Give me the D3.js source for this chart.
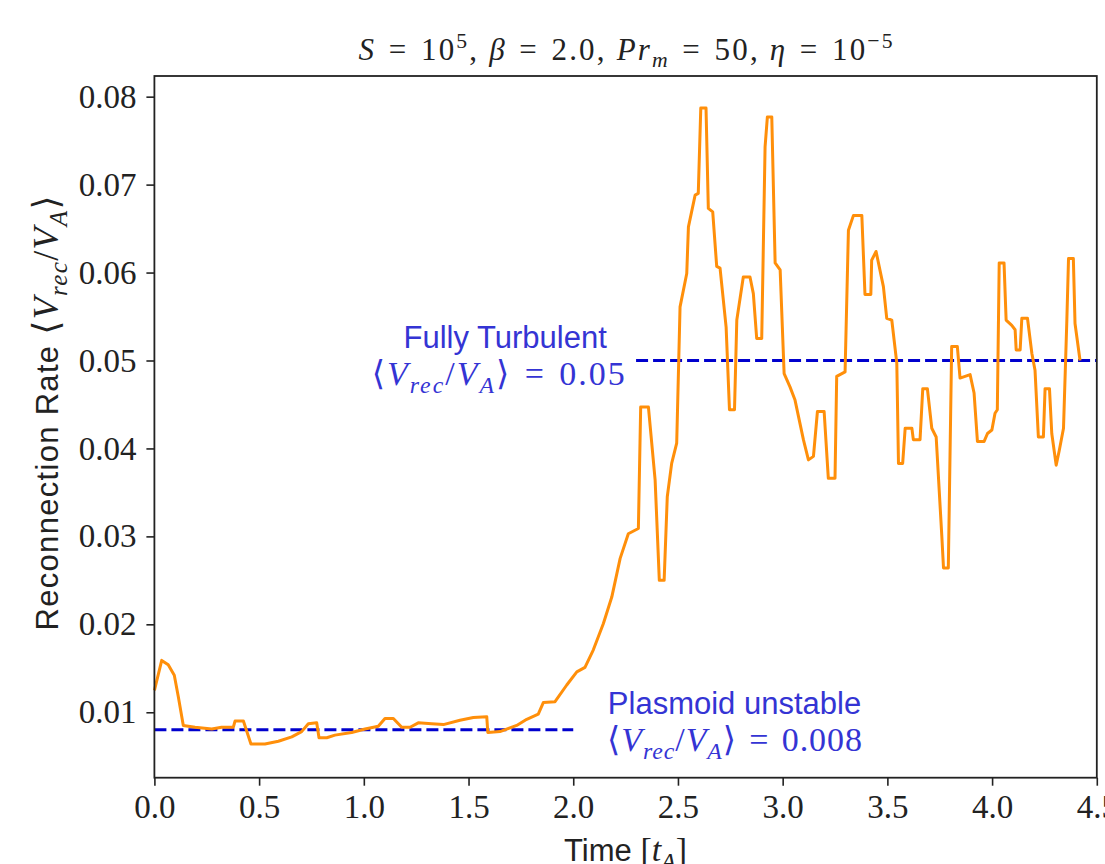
<!DOCTYPE html>
<html>
<head>
<meta charset="utf-8">
<script src="https://cdn.jsdelivr.net/npm/d3@7"></script>
<style>
  body { margin: 0; background: #fff; }
  text { white-space: pre; }
</style>
</head>
<body>
<svg></svg>
<script>
// Reconnection rate time series
const times = [0, 0.035, 0.066, 0.095, 0.114, 0.138, 0.194, 0.274, 0.321, 0.377, 0.385, 0.425, 0.461, 0.528, 0.592,
  0.656, 0.703, 0.735, 0.775, 0.786, 0.823, 0.862, 0.942, 1.006, 1.069, 1.101, 1.141, 1.181, 1.221, 1.260, 1.324,
  1.380, 1.459, 1.523, 1.587, 1.592, 1.650, 1.730, 1.778, 1.833, 1.857, 1.913, 1.969, 2.017, 2.056, 2.096, 2.144,
  2.184, 2.224, 2.263, 2.311, 2.322, 2.359, 2.391, 2.411, 2.434, 2.449, 2.470, 2.494, 2.510, 2.542, 2.550, 2.582,
  2.597, 2.609, 2.634, 2.645, 2.666, 2.685, 2.701, 2.730, 2.746, 2.770, 2.781, 2.812, 2.844, 2.860, 2.876, 2.900,
  2.916, 2.927, 2.948, 2.964, 2.988, 3.007, 3.035, 3.059, 3.099, 3.123, 3.147, 3.166, 3.198, 3.218, 3.250, 3.258,
  3.298, 3.314, 3.338, 3.378, 3.393, 3.421, 3.425, 3.446, 3.481, 3.497, 3.521, 3.545, 3.553, 3.573, 3.585, 3.617,
  3.624, 3.656, 3.669, 3.691, 3.712, 3.733, 3.760, 3.768, 3.791, 3.807, 3.834, 3.847, 3.895, 3.914, 3.930, 3.962,
  3.978, 3.999, 4.014, 4.025, 4.034, 4.057, 4.067, 4.094, 4.110, 4.115, 4.134, 4.142, 4.169, 4.190, 4.205, 4.221,
  4.245, 4.253, 4.274, 4.285, 4.306, 4.321, 4.341, 4.357, 4.365, 4.388, 4.396, 4.420];
const rates = [0.0125, 0.0159, 0.0154, 0.0142, 0.0118, 0.0085, 0.0083, 0.0081, 0.0083, 0.0083, 0.0090, 0.0090, 0.0064, 0.0064, 0.0067,
  0.0072, 0.0078, 0.0087, 0.0088, 0.0071, 0.0071, 0.0074, 0.0077, 0.0081, 0.0084, 0.0093, 0.0093, 0.0083, 0.0083, 0.0088, 0.0087,
  0.0086, 0.0091, 0.0094, 0.0095, 0.0077, 0.0078, 0.0085, 0.0092, 0.0098, 0.0111, 0.0112, 0.0131, 0.0146, 0.0151, 0.0171, 0.0201,
  0.0231, 0.0275, 0.0303, 0.0309, 0.0447, 0.0447, 0.0364, 0.0250, 0.0250, 0.0345, 0.0383, 0.0406, 0.0561, 0.0599, 0.0652, 0.0688,
  0.0690, 0.0787, 0.0787, 0.0673, 0.0669, 0.0607, 0.0605, 0.0538, 0.0444, 0.0444, 0.0546, 0.0595, 0.0595, 0.0576, 0.0525, 0.0525,
  0.0743, 0.0777, 0.0777, 0.0611, 0.0603, 0.0485, 0.0470, 0.0455, 0.0410, 0.0387, 0.0391, 0.0442, 0.0442, 0.0366, 0.0366, 0.0482,
  0.0487, 0.0648, 0.0665, 0.0665, 0.0575, 0.0575, 0.0614, 0.0624, 0.0584, 0.0548, 0.0546, 0.0497, 0.0383, 0.0383, 0.0423, 0.0423,
  0.0410, 0.0410, 0.0468, 0.0468, 0.0423, 0.0413, 0.0300, 0.0264, 0.0264, 0.0516, 0.0516, 0.0480, 0.0484, 0.0463, 0.0408, 0.0408,
  0.0417, 0.0421, 0.0440, 0.0444, 0.0611, 0.0611, 0.0546, 0.0540, 0.0535, 0.0512, 0.0512, 0.0548, 0.0548, 0.0508, 0.0489, 0.0413,
  0.0413, 0.0468, 0.0468, 0.0417, 0.0381, 0.0398, 0.0423, 0.0546, 0.0616, 0.0616, 0.0542, 0.0500];

// Mean levels (dashed lines)
const meanStart = [0.0, 2.3];
const meanEnd = [2.0, 4.5];
const meanRate = [0.008, 0.05];
const meanValueText = ["0.008", "0.05"];
const regimeNames = ["Plasmoid unstable", "Fully Turbulent"];

// Axis ticks
const xTicks = [0.0, 0.5, 1.0, 1.5, 2.0, 2.5, 3.0, 3.5, 4.0, 4.5];
const yTicks = [0.01, 0.02, 0.03, 0.04, 0.05, 0.06, 0.07, 0.08];

const W = 1105, H = 864;
const margin = { top: 76, right: 8.2, bottom: 86.3, left: 154.4 };
const width = W - margin.left - margin.right,
      height = H - margin.top - margin.bottom;

const SERIF = "'Liberation Serif', 'DejaVu Serif', serif";
const SANS = "'Liberation Sans', 'DejaVu Sans', sans-serif";
const EQ = "\u2004=\u2004";   // a bit wider spacing around "=", like TeX

const svg = d3.select("svg").attr("width", W).attr("height", H);
const g = svg.append("g").attr("transform", `translate(${margin.left},${margin.top})`);

const x = d3.scaleLinear().domain([0, 4.5]).range([0, width]);
const y = d3.scaleLinear().domain([0.00256, 0.08235]).range([height, 0]);

// small helper for math-ish text with italic/sub/sup parts
function mathText(sel, parts, fs) {
  let off = 0;
  parts.forEach(p => {
    const size = p.fs || fs;
    const ts = sel.append("tspan").text(p.s);
    const target = p.d === "sub" ? size * 0.24 : p.d === "sup" ? -size * 0.4 : 0;
    ts.attr("dy", target - off).attr("font-size", p.d ? size * 0.7 : size);
    off = target;
    if (p.i) ts.attr("font-style", "italic");
    if (p.f) ts.attr("font-family", p.f);
  });
}
const vrec = [{ s: "⟨" }, { s: "V", i: 1 }, { s: "rec", i: 1, d: "sub" }, { s: "/" }, { s: "V", i: 1 }, { s: "A", i: 1, d: "sub" }, { s: "⟩" }];

// Dashed mean lines
g.selectAll(".mean")
  .data(meanRate)
  .enter().append("line")
  .attr("class", "mean")
  .attr("x1", (d, i) => x(meanStart[i]))
  .attr("x2", (d, i) => x(meanEnd[i]))
  .attr("y1", d => y(d))
  .attr("y2", d => y(d))
  .attr("stroke", "#0000cd")
  .attr("stroke-width", 3)
  .attr("stroke-dasharray", "12,5");

// Reconnection rate curve
const line = d3.line().x((d, i) => x(times[i])).y(d => y(d));
g.append("path")
  .datum(rates)
  .attr("d", line)
  .attr("fill", "none")
  .attr("stroke", "#ff8f0a")
  .attr("stroke-width", 3)
  .attr("stroke-linejoin", "round");

// Axes
const xAxis = g.append("g")
  .attr("transform", `translate(0,${height})`)
  .call(d3.axisBottom(x).tickValues(xTicks).tickFormat(d3.format(".1f")).tickSize(8).tickSizeOuter(0).tickPadding(9));
const yAxis = g.append("g")
  .call(d3.axisLeft(y).tickValues(yTicks).tickFormat(d3.format(".2f")).tickSize(8).tickSizeOuter(0).tickPadding(10));
[xAxis, yAxis].forEach(a => {
  a.select(".domain").remove();
  a.selectAll(".tick line").attr("stroke", "#222").attr("stroke-width", 1.6);
  a.selectAll(".tick text").attr("font-family", SERIF).attr("font-size", 33).attr("fill", "#222");
});

// Frame
g.append("rect")
  .attr("width", width).attr("height", height)
  .attr("fill", "none").attr("stroke", "#222").attr("stroke-width", 1.8);

// Annotations
const annX = [2.77, 1.675];
const annY = [0.0098, 0.0514];
const mathShift = [0, -7];
const mathWidth = [255, 253];
regimeNames.forEach((name, i) => {
  g.append("text")
    .attr("x", x(annX[i])).attr("y", y(annY[i]))
    .attr("text-anchor", "middle")
    .attr("font-family", SANS).attr("font-size", 31).attr("fill", "#3434d4")
    .text(name);
  const t = g.append("text")
    .attr("x", x(annX[i]) + mathShift[i]).attr("y", y(annY[i]) + 37)
    .attr("text-anchor", "middle")
    .attr("font-family", SERIF).attr("fill", "#3434d4")
    .attr("textLength", mathWidth[i]).attr("lengthAdjust", "spacing");
  mathText(t, vrec.concat([{ s: EQ + meanValueText[i] }]), 34);
});

// Title
const title = svg.append("text")
  .attr("x", margin.left + width / 2).attr("y", 60)
  .attr("text-anchor", "middle").attr("font-family", SERIF).attr("fill", "#222")
  .attr("textLength", 534).attr("lengthAdjust", "spacing");
mathText(title, [{ s: "S", i: 1 }, { s: EQ + "10" }, { s: "5", d: "sup" }, { s: ", " }, { s: "β", i: 1 }, { s: EQ + "2.0, " },
  { s: "Pr", i: 1 }, { s: "m", i: 1, d: "sub" }, { s: EQ + "50, " }, { s: "η", i: 1 }, { s: EQ + "10" }, { s: "−5", d: "sup" }], 31);

// Axis labels
const ylab = svg.append("text")
  .attr("transform", `translate(58,413) rotate(-90)`)
  .attr("text-anchor", "middle").attr("font-family", SERIF).attr("fill", "#222")
  .attr("textLength", 435).attr("lengthAdjust", "spacing");
mathText(ylab, [{ s: "Reconnection Rate ", f: SANS, fs: 31 }].concat(vrec.map(p => Object.assign({ fs: 36 }, p))), 31);

const xlab = svg.append("text")
  .attr("x", margin.left + width / 2).attr("y", 861)
  .attr("text-anchor", "middle").attr("font-family", SERIF).attr("fill", "#222");
mathText(xlab, [{ s: "Time ", f: SANS, fs: 31 }, { s: "[", fs: 34 }, { s: "t", i: 1, fs: 34 }, { s: "A", i: 1, d: "sub", fs: 34 }, { s: "]", fs: 34 }], 31);
</script>
</body>
</html>
